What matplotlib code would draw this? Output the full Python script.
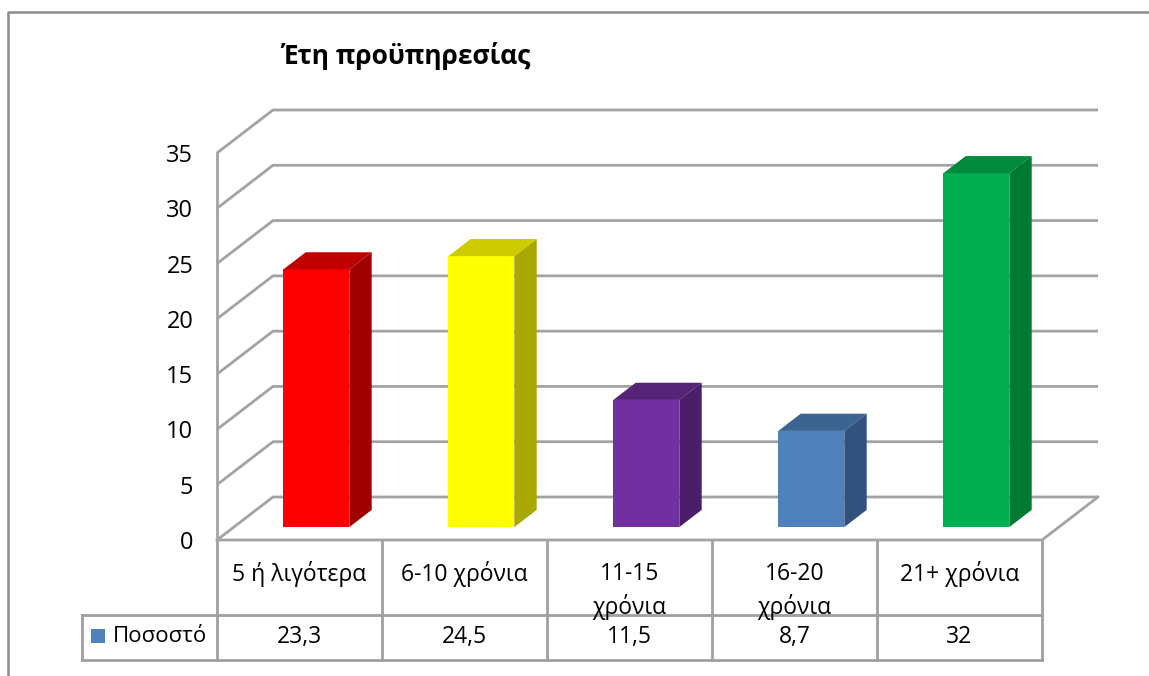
import matplotlib
matplotlib.use("Agg")
import matplotlib.pyplot as plt
from matplotlib.patches import Polygon, Rectangle

plt.rcParams['font.family'] = ['Open Sans', 'DejaVu Sans']

# data
categories = ['5 ή λιγότερα', '6-10 χρόνια', '11-15\nχρόνια', '16-20\nχρόνια', '21+ χρόνια']
values = [23.3, 24.5, 11.5, 8.7, 32]
value_labels = ['23,3', '24,5', '11,5', '8,7', '32']
series_name = 'Ποσοστό'
title = 'Έτη προϋπηρεσίας'
yticks = [0, 5, 10, 15, 20, 25, 30, 35]

front_colors = ['#ff0000', '#ffff00', '#7030a0', '#4f81bd', '#00b050']
top_colors = ['#c00000', '#cccc00', '#552479', '#3c6490', '#008c3c']
side_colors = ['#a00000', '#a8a800', '#4a1e68', '#30527c', '#007a33']

W, H = 1149, 676
fig = plt.figure(figsize=(W / 100, H / 100), dpi=100)

# layout layer in pixel units (frame, title, data table)
lay = fig.add_axes([0, 0, 1, 1])
lay.set_xlim(0, W)
lay.set_ylim(H, 0)
lay.axis('off')

# chart area: front plane of the 3d box
left, right, top, bottom = 217, 1042, 153, 540
ax = fig.add_axes([left / W, (H - bottom) / H, (right - left) / W, (bottom - top) / H])
ax.set_xlim(-0.5, len(values) - 0.5)
ax.set_ylim(0, 35)
ax.patch.set_visible(False)
for s in ax.spines.values():
    s.set_visible(False)
ax.set_xticks([])
ax.set_yticks(yticks)
ax.tick_params(axis='y', length=0, pad=17, labelsize=17)

# depth of the box, in data units
px_x = (right - left) / len(values)
px_y = (bottom - top) / 35
DX = 56 / px_x
DY = 43 / px_y

grid_c = '#a3a3a3'
glw = 2.0
x0, x1 = -0.5, len(values) - 0.5
for v in yticks:
    ax.plot([x0, x0 + DX, x1 + DX], [v, v + DY, v + DY], color=grid_c, lw=glw,
            clip_on=False, zorder=1, solid_capstyle='butt')
ax.plot([x0, x0], [0, 35], color=grid_c, lw=glw, clip_on=False, zorder=1)
ax.plot([x0, x1, x1 + DX], [0, 0, DY], color=grid_c, lw=glw, clip_on=False, zorder=1)

# 3d bars
bw = 0.4
d0, d1 = 0.3, 0.7
for i, v in enumerate(values):
    xl = i - bw / 2 + d0 * DX
    xr = xl + bw
    yb = d0 * DY
    ax.bar(xl, v, width=bw, bottom=yb, align='edge', color=front_colors[i],
           zorder=3, clip_on=False, lw=0)
    ddx = (d1 - d0) * DX
    ddy = (d1 - d0) * DY
    ax.add_patch(Polygon([(xl, yb + v), (xr, yb + v), (xr + ddx, yb + v + ddy),
                          (xl + ddx, yb + v + ddy)], closed=True,
                         facecolor=top_colors[i], lw=0, zorder=3, clip_on=False))
    ax.add_patch(Polygon([(xr, yb), (xr + ddx, yb + ddy), (xr + ddx, yb + v + ddy),
                          (xr, yb + v)], closed=True,
                         facecolor=side_colors[i], lw=0, zorder=3, clip_on=False))

# outer frame
frame_c = '#8c8c8c'
lay.plot([8, 8, W + 5], [H + 5, 12, 12], color=frame_c, lw=1.8)

lay.text(406, 56, title, ha='center', va='center', fontsize=19, fontweight='bold')

# data table
tab_c = '#a0a0a0'
row1, row2, row3 = bottom, 615, 660
key_left = 82
for k in range(len(values) + 1):
    x = left + k * px_x
    lay.plot([x, x], [row1, row3], color=tab_c, lw=2.0)
lay.plot([key_left, right], [row2, row2], color=tab_c, lw=2.0)
lay.plot([key_left, right], [row3, row3], color=tab_c, lw=2.0)
lay.plot([key_left, key_left], [row2, row3], color=tab_c, lw=2.0)

for i, cat in enumerate(categories):
    cx = left + (i + 0.5) * px_x
    for j, line in enumerate(cat.split('\n')):
        lay.text(cx, 574 + 33 * j, line, ha='center', va='center', fontsize=16.5)
    lay.text(cx, 637, value_labels[i], ha='center', va='center', fontsize=16.5)

lay.add_patch(Rectangle((91, 629), 14, 14, facecolor='#4f81bd', lw=0))
lay.text(113, 636, series_name, ha='left', va='center', fontsize=16)

fig.savefig('out.png', dpi=100)
